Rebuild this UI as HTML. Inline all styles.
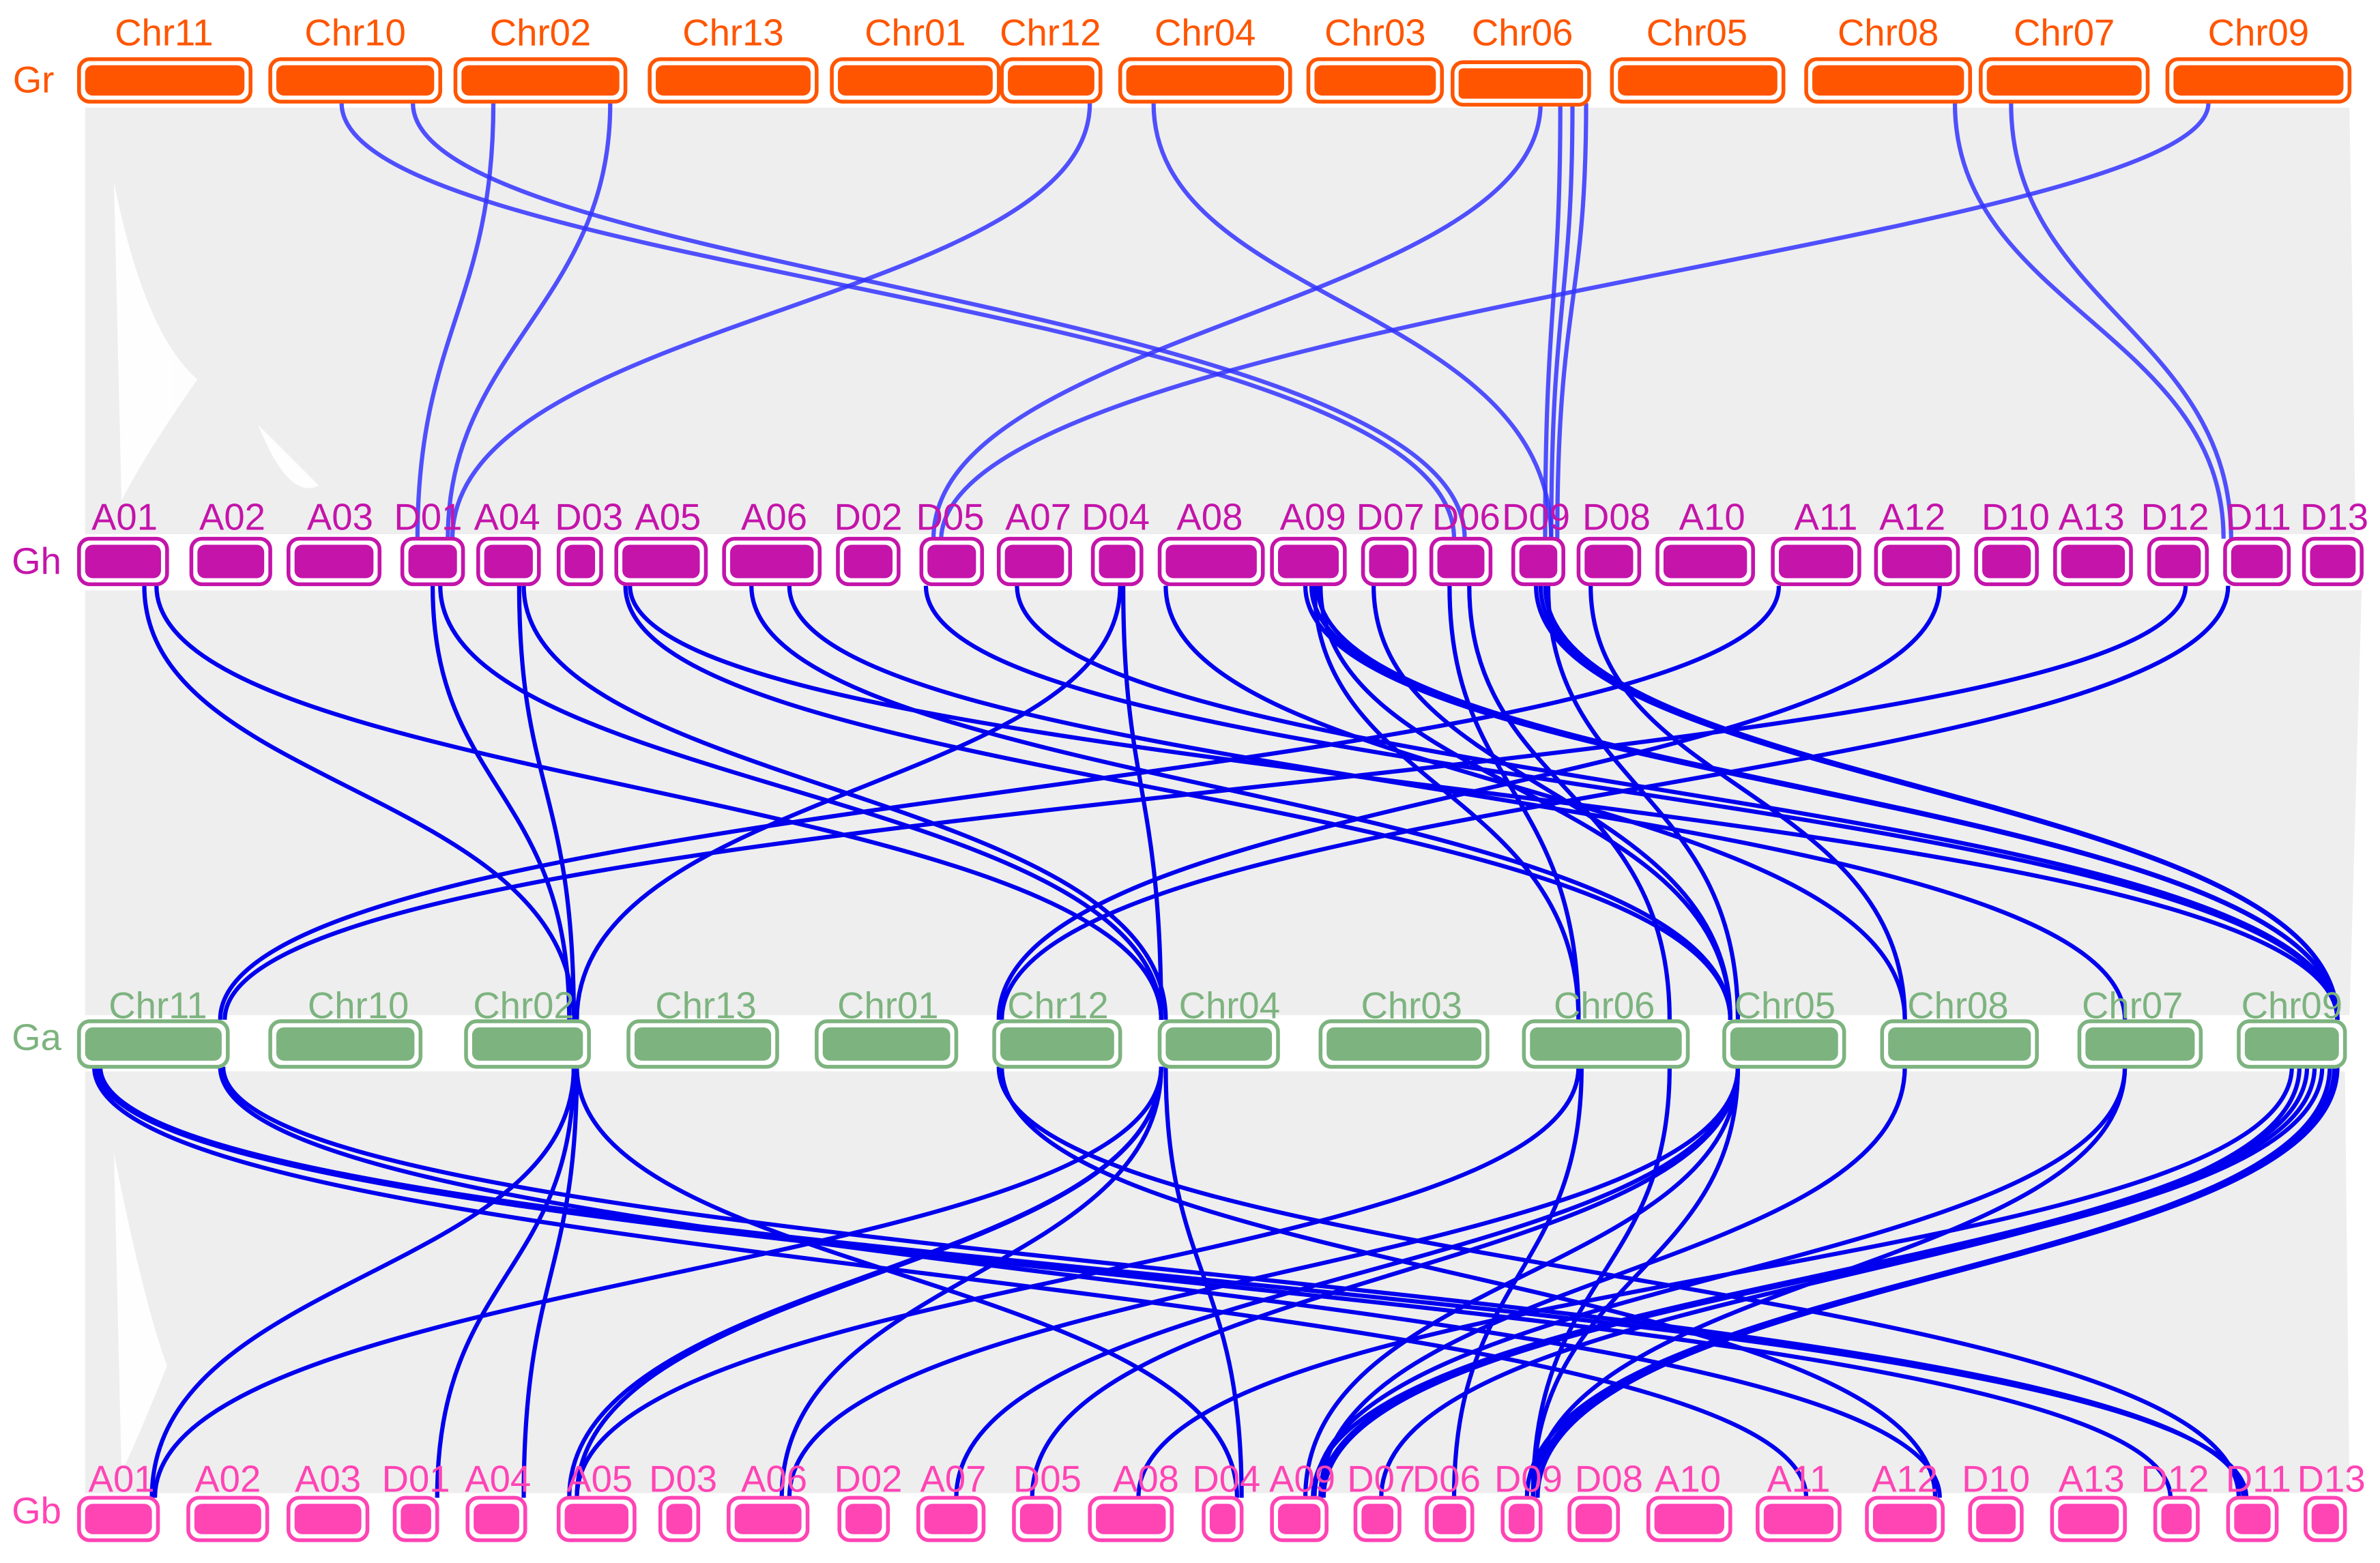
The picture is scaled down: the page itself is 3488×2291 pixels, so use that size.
<!DOCTYPE html>
<html><head><meta charset="utf-8"><style>
html,body{margin:0;padding:0;background:#fff;}
svg{display:block;}
text{font-family:"Liberation Sans",sans-serif;font-size:24.5px;text-anchor:middle;}
</style></head><body>
<svg width="3488" height="2291" viewBox="0 0 1568 1030" xmlns="http://www.w3.org/2000/svg">
<!-- gray synteny background -->
<g fill="#eeeeee">
<path d="M56 71 L1548 71 L1552 352 L56 352 Z"/>
<path d="M56 389 L1556 389 L1548 669 L56 669 Z"/>
<path d="M56 706 L1545 706 L1548 984 L56 984 Z"/>
</g>
<g fill="#ffffff" opacity="0.9">
<path d="M75 120 Q95 220 130 250 Q95 300 80 330 Z"/>
<path d="M170 280 Q190 330 210 320 Z"/>
<path d="M75 760 Q95 860 110 900 Q90 950 80 970 Z"/>
</g>
<!-- Gr -> Gh links -->
<g fill="none" stroke="#3333ff" stroke-opacity="0.85" stroke-width="2.8">
<path d="M225 68 C225 180,958 200,958 355"/>
<path d="M272 68 C272 180,965 200,965 355"/>
<path d="M325 68 C325 200,275 220,275 355"/>
<path d="M402 68 C402 200,295 230,295 355"/>
<path d="M718 68 C718 200,298 210,298 355"/>
<path d="M760 68 C760 200,1022 200,1022 355"/>
<path d="M1015 68 C1015 200,615 220,615 355"/>
<path d="M1028 68 C1028 200,1018 200,1018 355"/>
<path d="M1036 68 C1036 200,1022 200,1022 355"/>
<path d="M1045 68 C1045 200,1026 200,1026 355"/>
<path d="M1455 68 C1455 160,625 210,620 355"/>
<path d="M1288 68 C1288 200,1465 220,1465 355"/>
<path d="M1325 68 C1325 200,1470 220,1470 355"/>
</g>
<!-- Gh -> Ga links -->
<g fill="none" stroke="#0000ee" stroke-width="2.8">
<path d="M95 386 C95 520,378 520,378 672"/>
<path d="M103 386 C103 520,765 520,765 672"/>
<path d="M285 386 C285 520,375 520,375 672"/>
<path d="M290 386 C290 520,765 520,765 672"/>
<path d="M342 386 C342 520,378 520,378 672"/>
<path d="M345 386 C345 520,768 520,768 672"/>
<path d="M412 386 C412 520,1140 520,1140 672"/>
<path d="M415 386 C415 520,1540 520,1540 672"/>
<path d="M495 386 C495 520,1140 520,1140 672"/>
<path d="M520 386 C520 520,1400 520,1400 672"/>
<path d="M610 386 C610 520,1540 520,1540 672"/>
<path d="M670 386 C670 520,1540 520,1540 672"/>
<path d="M738 386 C738 520,380 520,380 672"/>
<path d="M740 386 C740 520,765 520,765 672"/>
<path d="M768 386 C768 520,1255 520,1255 672"/>
<path d="M860 386 C860 520,1540 520,1540 672"/>
<path d="M864 386 C864 520,1540 520,1540 672"/>
<path d="M868 386 C868 520,1540 520,1540 672"/>
<path d="M866 386 C866 520,1040 520,1040 672"/>
<path d="M870 386 C870 520,1140 520,1140 672"/>
<path d="M905 386 C905 520,1140 520,1140 672"/>
<path d="M955 386 C955 520,1040 520,1040 672"/>
<path d="M968 386 C968 520,1100 520,1100 672"/>
<path d="M1012 386 C1012 520,1540 520,1540 672"/>
<path d="M1015 386 C1015 520,1540 520,1540 672"/>
<path d="M1018 386 C1018 520,1540 520,1540 672"/>
<path d="M1020 386 C1020 520,1145 520,1145 672"/>
<path d="M1048 386 C1048 520,1255 520,1255 672"/>
<path d="M1172 386 C1172 520,145 520,145 672"/>
<path d="M1278 386 C1278 520,658 520,658 672"/>
<path d="M1440 386 C1440 520,148 520,148 672"/>
<path d="M1468 386 C1468 520,660 520,660 672"/>
</g>
<!-- Ga -> Gb links -->
<g fill="none" stroke="#0000ee" stroke-width="2.8">
<path d="M62 703 C62 840,1190 840,1190 987"/>
<path d="M64 703 C64 840,1430 840,1430 987"/>
<path d="M66 703 C66 840,1480 840,1480 987"/>
<path d="M145 703 C145 840,1278 840,1278 987"/>
<path d="M147 703 C147 840,1478 840,1478 987"/>
<path d="M378 703 C378 840,100 840,100 987"/>
<path d="M378 703 C378 840,288 840,288 987"/>
<path d="M380 703 C380 840,345 840,345 987"/>
<path d="M380 703 C380 840,815 840,815 987"/>
<path d="M765 703 C765 840,102 840,102 987"/>
<path d="M765 703 C765 840,375 840,375 987"/>
<path d="M765 703 C765 840,380 840,380 987"/>
<path d="M765 703 C765 840,515 840,515 987"/>
<path d="M768 703 C768 840,818 840,818 987"/>
<path d="M658 703 C658 840,1475 840,1475 987"/>
<path d="M660 703 C660 840,1275 840,1275 987"/>
<path d="M1040 703 C1040 840,380 840,380 987"/>
<path d="M1042 703 C1042 840,958 840,958 987"/>
<path d="M1100 703 C1100 840,1010 840,1010 987"/>
<path d="M1145 703 C1145 840,520 840,520 987"/>
<path d="M1145 703 C1145 840,630 840,630 987"/>
<path d="M1145 703 C1145 840,680 840,680 987"/>
<path d="M1145 703 C1145 840,860 840,860 987"/>
<path d="M1145 703 C1145 840,1010 840,1010 987"/>
<path d="M1255 703 C1255 840,870 840,870 987"/>
<path d="M1400 703 C1400 840,1010 840,1010 987"/>
<path d="M1400 703 C1400 840,866 840,866 987"/>
<path d="M1520 703 C1520 840,870 840,870 987"/>
<path d="M1525 703 C1525 840,865 840,865 987"/>
<path d="M1530 703 C1530 840,872 840,872 987"/>
<path d="M1535 703 C1535 840,1010 840,1010 987"/>
<path d="M1538 703 C1538 840,1006 840,1006 987"/>
<path d="M1540 703 C1540 840,1013 840,1013 987"/>
<path d="M1510 703 C1510 840,750 840,750 987"/>
<path d="M1515 703 C1515 840,910 840,910 987"/>
</g>

<!-- Gr row -->
<g>
<text x="22" y="61" fill="#ff5500">Gr</text>
<g fill="#ff5500">
<text x="108" y="30">Chr11</text><text x="234" y="30">Chr10</text><text x="356" y="30">Chr02</text><text x="483" y="30">Chr13</text><text x="603" y="30">Chr01</text><text x="692" y="30">Chr12</text><text x="794" y="30">Chr04</text><text x="906" y="30">Chr03</text><text x="1003" y="30">Chr06</text><text x="1118" y="30">Chr05</text><text x="1244" y="30">Chr08</text><text x="1360" y="30">Chr07</text><text x="1488" y="30">Chr09</text>
</g>
<g stroke="#ff5500" stroke-width="2.5" fill="#fff">
<rect x="52" y="39" width="113" height="28" rx="7"/><rect x="178" y="39" width="112" height="28" rx="7"/><rect x="300" y="39" width="112" height="28" rx="7"/><rect x="428" y="39" width="110" height="28" rx="7"/><rect x="548" y="39" width="110" height="28" rx="7"/><rect x="660" y="39" width="65" height="28" rx="7"/><rect x="738" y="39" width="112" height="28" rx="7"/><rect x="862" y="39" width="88" height="28" rx="7"/><rect x="957" y="41" width="90" height="28" rx="7"/><rect x="1062" y="39" width="113" height="28" rx="7"/><rect x="1190" y="39" width="108" height="28" rx="7"/><rect x="1305" y="39" width="110" height="28" rx="7"/><rect x="1428" y="39" width="120" height="28" rx="7"/>
</g>
<g fill="#ff5500">
<rect x="56" y="43" width="105" height="20" rx="5"/><rect x="182" y="43" width="104" height="20" rx="5"/><rect x="304" y="43" width="104" height="20" rx="5"/><rect x="432" y="43" width="102" height="20" rx="5"/><rect x="552" y="43" width="102" height="20" rx="5"/><rect x="664" y="43" width="57" height="20" rx="5"/><rect x="742" y="43" width="104" height="20" rx="5"/><rect x="866" y="43" width="80" height="20" rx="5"/><rect x="961" y="45" width="82" height="20" rx="3"/><rect x="1066" y="43" width="105" height="20" rx="5"/><rect x="1194" y="43" width="100" height="20" rx="5"/><rect x="1309" y="43" width="102" height="20" rx="5"/><rect x="1432" y="43" width="112" height="20" rx="5"/>
</g>
</g>

<!-- Gh row -->
<g>
<text x="24" y="378" fill="#c414aa">Gh</text>
<g fill="#c414aa">
<text x="82" y="349">A01</text><text x="153" y="349">A02</text><text x="224" y="349">A03</text><text x="282" y="349">D01</text><text x="334" y="349">A04</text><text x="388" y="349">D03</text><text x="440" y="349">A05</text><text x="510" y="349">A06</text><text x="572" y="349">D02</text><text x="626" y="349">D05</text><text x="684" y="349">A07</text><text x="735" y="349">D04</text><text x="797" y="349">A08</text><text x="865" y="349">A09</text><text x="916" y="349">D07</text><text x="966" y="349">D06</text><text x="1012" y="349">D09</text><text x="1065" y="349">D08</text><text x="1128" y="349">A10</text><text x="1203" y="349">A11</text><text x="1260" y="349">A12</text><text x="1328" y="349">D10</text><text x="1378" y="349">A13</text><text x="1433" y="349">D12</text><text x="1488" y="349">D11</text><text x="1538" y="349">D13</text>
</g>
<g stroke="#c414aa" stroke-width="2.5" fill="#fff">
<rect x="52" y="355" width="58" height="30" rx="7"/><rect x="126" y="355" width="52" height="30" rx="7"/><rect x="190" y="355" width="60" height="30" rx="7"/><rect x="265" y="355" width="40" height="30" rx="7"/><rect x="315" y="355" width="40" height="30" rx="7"/><rect x="368" y="355" width="28" height="30" rx="7"/><rect x="406" y="355" width="59" height="30" rx="7"/><rect x="477" y="355" width="63" height="30" rx="7"/><rect x="552" y="355" width="40" height="30" rx="7"/><rect x="607" y="355" width="40" height="30" rx="7"/><rect x="658" y="355" width="47" height="30" rx="7"/><rect x="720" y="355" width="32" height="30" rx="7"/><rect x="764" y="355" width="68" height="30" rx="7"/><rect x="838" y="355" width="48" height="30" rx="7"/><rect x="898" y="355" width="34" height="30" rx="7"/><rect x="943" y="355" width="39" height="30" rx="7"/><rect x="997" y="355" width="33" height="30" rx="7"/><rect x="1040" y="355" width="40" height="30" rx="7"/><rect x="1092" y="355" width="63" height="30" rx="7"/><rect x="1168" y="355" width="57" height="30" rx="7"/><rect x="1236" y="355" width="54" height="30" rx="7"/><rect x="1302" y="355" width="40" height="30" rx="7"/><rect x="1354" y="355" width="50" height="30" rx="7"/><rect x="1416" y="355" width="38" height="30" rx="7"/><rect x="1466" y="355" width="42" height="30" rx="7"/><rect x="1518" y="355" width="38" height="30" rx="7"/>
</g>
<g fill="#c414aa">
<rect x="56" y="359" width="50" height="22" rx="5"/><rect x="130" y="359" width="44" height="22" rx="5"/><rect x="194" y="359" width="52" height="22" rx="5"/><rect x="269" y="359" width="32" height="22" rx="5"/><rect x="319" y="359" width="32" height="22" rx="5"/><rect x="372" y="359" width="20" height="22" rx="5"/><rect x="410" y="359" width="51" height="22" rx="5"/><rect x="481" y="359" width="55" height="22" rx="5"/><rect x="556" y="359" width="32" height="22" rx="5"/><rect x="611" y="359" width="32" height="22" rx="5"/><rect x="662" y="359" width="39" height="22" rx="5"/><rect x="724" y="359" width="24" height="22" rx="5"/><rect x="768" y="359" width="60" height="22" rx="5"/><rect x="842" y="359" width="40" height="22" rx="5"/><rect x="902" y="359" width="26" height="22" rx="5"/><rect x="947" y="359" width="31" height="22" rx="5"/><rect x="1001" y="359" width="25" height="22" rx="5"/><rect x="1044" y="359" width="32" height="22" rx="5"/><rect x="1096" y="359" width="55" height="22" rx="5"/><rect x="1172" y="359" width="49" height="22" rx="5"/><rect x="1240" y="359" width="46" height="22" rx="5"/><rect x="1306" y="359" width="32" height="22" rx="5"/><rect x="1358" y="359" width="42" height="22" rx="5"/><rect x="1420" y="359" width="30" height="22" rx="5"/><rect x="1470" y="359" width="34" height="22" rx="5"/><rect x="1522" y="359" width="30" height="22" rx="5"/>
</g>
</g>

<!-- Ga row -->
<g>
<text x="24" y="692" fill="#7db37f">Ga</text>
<g fill="#7db37f">
<text x="104" y="671">Chr11</text><text x="236" y="671">Chr10</text><text x="345" y="671">Chr02</text><text x="465" y="671">Chr13</text><text x="585" y="671">Chr01</text><text x="697" y="671">Chr12</text><text x="810" y="671">Chr04</text><text x="930" y="671">Chr03</text><text x="1057" y="671">Chr06</text><text x="1176" y="671">Chr05</text><text x="1290" y="671">Chr08</text><text x="1405" y="671">Chr07</text><text x="1510" y="671">Chr09</text>
</g>
<g stroke="#7db37f" stroke-width="2.5" fill="#fff">
<rect x="52" y="673" width="98" height="30" rx="7"/><rect x="178" y="673" width="99" height="30" rx="7"/><rect x="307" y="673" width="81" height="30" rx="7"/><rect x="414" y="673" width="98" height="30" rx="7"/><rect x="538" y="673" width="92" height="30" rx="7"/><rect x="655" y="673" width="83" height="30" rx="7"/><rect x="764" y="673" width="78" height="30" rx="7"/><rect x="870" y="673" width="110" height="30" rx="7"/><rect x="1004" y="673" width="108" height="30" rx="7"/><rect x="1136" y="673" width="79" height="30" rx="7"/><rect x="1240" y="673" width="102" height="30" rx="7"/><rect x="1370" y="673" width="80" height="30" rx="7"/><rect x="1475" y="673" width="70" height="30" rx="7"/>
</g>
<g fill="#7db37f">
<rect x="56" y="677" width="90" height="22" rx="5"/><rect x="182" y="677" width="91" height="22" rx="5"/><rect x="311" y="677" width="73" height="22" rx="5"/><rect x="418" y="677" width="90" height="22" rx="5"/><rect x="542" y="677" width="84" height="22" rx="5"/><rect x="659" y="677" width="75" height="22" rx="5"/><rect x="768" y="677" width="70" height="22" rx="5"/><rect x="874" y="677" width="102" height="22" rx="5"/><rect x="1008" y="677" width="100" height="22" rx="5"/><rect x="1140" y="677" width="71" height="22" rx="5"/><rect x="1244" y="677" width="94" height="22" rx="5"/><rect x="1374" y="677" width="72" height="22" rx="5"/><rect x="1479" y="677" width="62" height="22" rx="5"/>
</g>
</g>

<!-- Gb row -->
<g>
<text x="24" y="1004" fill="#ff44b4">Gb</text>
<g fill="#ff44b4">
<text x="80" y="983">A01</text><text x="150" y="983">A02</text><text x="216" y="983">A03</text><text x="274" y="983">D01</text><text x="328" y="983">A04</text><text x="395" y="983">A05</text><text x="450" y="983">D03</text><text x="510" y="983">A06</text><text x="572" y="983">D02</text><text x="628" y="983">A07</text><text x="690" y="983">D05</text><text x="755" y="983">A08</text><text x="808" y="983">D04</text><text x="858" y="983">A09</text><text x="910" y="983">D07</text><text x="953" y="983">D06</text><text x="1007" y="983">D09</text><text x="1060" y="983">D08</text><text x="1112" y="983">A10</text><text x="1185" y="983">A11</text><text x="1255" y="983">A12</text><text x="1315" y="983">D10</text><text x="1378" y="983">A13</text><text x="1433" y="983">D12</text><text x="1488" y="983">D11</text><text x="1536" y="983">D13</text>
</g>
<g stroke="#ff44b4" stroke-width="2.5" fill="#fff">
<rect x="52" y="987" width="52" height="28" rx="7"/><rect x="124" y="987" width="52" height="28" rx="7"/><rect x="190" y="987" width="52" height="28" rx="7"/><rect x="260" y="987" width="28" height="28" rx="7"/><rect x="308" y="987" width="38" height="28" rx="7"/><rect x="368" y="987" width="50" height="28" rx="7"/><rect x="435" y="987" width="25" height="28" rx="7"/><rect x="480" y="987" width="52" height="28" rx="7"/><rect x="553" y="987" width="32" height="28" rx="7"/><rect x="605" y="987" width="43" height="28" rx="7"/><rect x="668" y="987" width="30" height="28" rx="7"/><rect x="718" y="987" width="54" height="28" rx="7"/><rect x="793" y="987" width="25" height="28" rx="7"/><rect x="838" y="987" width="36" height="28" rx="7"/><rect x="893" y="987" width="29" height="28" rx="7"/><rect x="940" y="987" width="30" height="28" rx="7"/><rect x="990" y="987" width="25" height="28" rx="7"/><rect x="1034" y="987" width="32" height="28" rx="7"/><rect x="1086" y="987" width="54" height="28" rx="7"/><rect x="1158" y="987" width="54" height="28" rx="7"/><rect x="1230" y="987" width="50" height="28" rx="7"/><rect x="1298" y="987" width="34" height="28" rx="7"/><rect x="1352" y="987" width="48" height="28" rx="7"/><rect x="1420" y="987" width="28" height="28" rx="7"/><rect x="1468" y="987" width="32" height="28" rx="7"/><rect x="1519" y="987" width="26" height="28" rx="7"/>
</g>
<g fill="#ff44b4">
<rect x="56" y="991" width="44" height="20" rx="5"/><rect x="128" y="991" width="44" height="20" rx="5"/><rect x="194" y="991" width="44" height="20" rx="5"/><rect x="264" y="991" width="20" height="20" rx="5"/><rect x="312" y="991" width="30" height="20" rx="5"/><rect x="372" y="991" width="42" height="20" rx="5"/><rect x="439" y="991" width="17" height="20" rx="5"/><rect x="484" y="991" width="44" height="20" rx="5"/><rect x="557" y="991" width="24" height="20" rx="5"/><rect x="609" y="991" width="35" height="20" rx="5"/><rect x="672" y="991" width="22" height="20" rx="5"/><rect x="722" y="991" width="46" height="20" rx="5"/><rect x="797" y="991" width="17" height="20" rx="5"/><rect x="842" y="991" width="28" height="20" rx="5"/><rect x="897" y="991" width="21" height="20" rx="5"/><rect x="944" y="991" width="22" height="20" rx="5"/><rect x="994" y="991" width="17" height="20" rx="5"/><rect x="1038" y="991" width="24" height="20" rx="5"/><rect x="1090" y="991" width="46" height="20" rx="5"/><rect x="1162" y="991" width="46" height="20" rx="5"/><rect x="1234" y="991" width="42" height="20" rx="5"/><rect x="1302" y="991" width="26" height="20" rx="5"/><rect x="1356" y="991" width="40" height="20" rx="5"/><rect x="1424" y="991" width="20" height="20" rx="5"/><rect x="1472" y="991" width="24" height="20" rx="5"/><rect x="1523" y="991" width="18" height="20" rx="5"/>
</g>
</g>
</svg>
</body></html>
